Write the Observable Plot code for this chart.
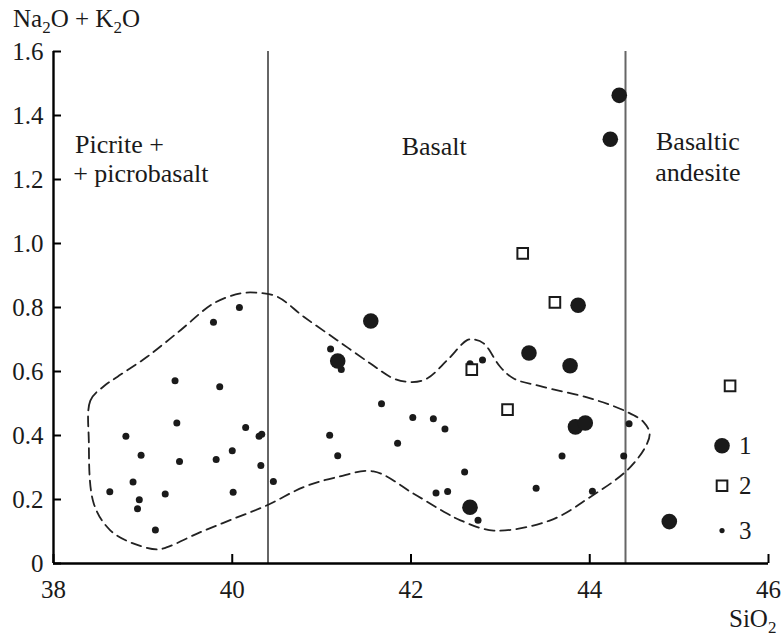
<!DOCTYPE html>
<html>
<head>
<meta charset="utf-8">
<script src="https://cdn.jsdelivr.net/npm/d3@7"></script>
<script src="https://cdn.jsdelivr.net/npm/@observablehq/plot@0.6"></script>
<style>
  html, body { margin: 0; padding: 0; background: #fff; }
  #chart svg { display: block; }
</style>
</head>
<body>
<div id="chart"></div>
<script>
// Series 1: large filled circles
const s1SiO2 = [41.55, 41.18, 44.33, 44.23, 43.87, 43.32, 43.78, 43.84, 43.95, 42.66, 44.89];
const s1Alk  = [0.758, 0.633, 1.463, 1.326, 0.807, 0.658, 0.618, 0.427, 0.439, 0.176, 0.131];
// Series 2: open squares
const s2SiO2 = [43.25, 43.61, 42.68, 43.08, 45.57];
const s2Alk  = [0.969, 0.816, 0.606, 0.481, 0.555];
// Series 3: small dots
const s3SiO2 = [40.08, 39.79, 39.36, 39.86, 39.38, 38.81, 40.15, 40.30, 40.33, 38.98, 39.41, 39.82, 40.00, 40.32, 40.46, 38.89, 38.63, 38.96, 38.94, 39.25, 40.01, 39.14,
                41.10, 41.22, 41.67, 42.02, 42.25, 42.38, 41.09, 41.18, 41.85, 42.60, 42.28, 42.41,
                42.66, 42.80, 44.44, 43.69, 44.38, 43.40, 44.03, 42.75];
const s3Alk  = [0.800, 0.754, 0.571, 0.552, 0.439, 0.398, 0.425, 0.398, 0.404, 0.338, 0.319, 0.325, 0.352, 0.306, 0.256, 0.255, 0.224, 0.199, 0.171, 0.217, 0.223, 0.105,
                0.670, 0.606, 0.499, 0.456, 0.452, 0.420, 0.401, 0.337, 0.376, 0.286, 0.220, 0.225,
                0.624, 0.636, 0.437, 0.336, 0.336, 0.235, 0.226, 0.135];
// Dashed field outline (closed)
const fieldSiO2 = [38.395, 38.414, 38.563, 38.713, 39.048, 39.421, 39.793, 40.092, 40.279, 40.502, 40.800, 41.173, 41.546, 41.807, 42.012, 42.180, 42.404, 42.628, 42.701, 42.813, 43.000, 43.149, 43.447, 44.007, 44.417, 44.603, 44.670, 44.622, 44.417, 44.007, 43.559, 42.925, 42.553, 42.404, 42.030, 41.580, 41.173, 40.800, 40.390, 40.017, 39.644, 39.272, 39.160, 38.898, 38.638, 38.451];
const fieldAlk  = [0.385, 0.510, 0.554, 0.583, 0.646, 0.729, 0.813, 0.844, 0.846, 0.834, 0.771, 0.698, 0.625, 0.578, 0.567, 0.578, 0.635, 0.698, 0.700, 0.688, 0.614, 0.578, 0.554, 0.516, 0.474, 0.442, 0.406, 0.364, 0.291, 0.208, 0.135, 0.103, 0.135, 0.156, 0.218, 0.288, 0.270, 0.239, 0.182, 0.140, 0.098, 0.051, 0.044, 0.062, 0.103, 0.187];
// Classification boundaries (SiO2)
const boundaries = [40.4, 44.4];
// Field names
const leftNames = ["Picrite +", "+ picrobasalt"];
const leftNameX = [38.24, 38.22];
const leftNameY = [1.283, 1.192];
const midNames = ["Basalt", "Basaltic", "andesite"];
const midNameX = [42.26, 45.21, 45.21];
const midNameY = [1.276, 1.292, 1.195];
// Legend
const legendLabels = ["1", "2", "3"];
const legendY = [0.368, 0.243, 0.103];
const legendX = 45.48;
// Ticks
const xTicks = [38, 40, 42, 44, 46];
const yTicks = [0, 0.2, 0.4, 0.6, 0.8, 1.0, 1.2, 1.4, 1.6];

const s1 = s1SiO2.map((x, i) => ({x, y: s1Alk[i]}));
const s2 = s2SiO2.map((x, i) => ({x, y: s2Alk[i]}));
const s3 = s3SiO2.map((x, i) => ({x, y: s3Alk[i]}));
const field = fieldSiO2.map((x, i) => ({x, y: fieldAlk[i]}));
const left = leftNames.map((t, i) => ({t, x: leftNameX[i], y: leftNameY[i]}));
const mid = midNames.map((t, i) => ({t, x: midNameX[i], y: midNameY[i]}));
const legend = legendLabels.map((t, i) => ({t, y: legendY[i]}));

const font = "'Liberation Serif', 'Times New Roman', serif";
const ink = "#1a1a1a";

const plot = Plot.plot({
  width: 782,
  height: 642,
  marginTop: 51,
  marginRight: 14,
  marginBottom: 79,
  marginLeft: 53,
  style: {fontFamily: font, background: "#fff", color: ink},
  x: {domain: [38, 46]},
  y: {domain: [0, 1.6]},
  marks: [
    Plot.ruleX(boundaries, {stroke: "#666", strokeWidth: 2}),
    Plot.line(field, {x: "x", y: "y", curve: "catmull-rom-closed", stroke: "#222", strokeWidth: 1.8, strokeDasharray: "10,6"}),
    Plot.dot(s3, {x: "x", y: "y", r: 3.5, fill: ink}),
    Plot.dot(s1, {x: "x", y: "y", r: 7.8, fill: ink}),
    Plot.dot(s2, {x: "x", y: "y", symbol: "square", r: 6, fill: "#fff", stroke: ink, strokeWidth: 2}),
    // legend
    Plot.dot(legend.slice(0, 1), {x: legendX, y: "y", r: 7.8, fill: ink}),
    Plot.dot(legend.slice(1, 2), {x: legendX, y: "y", symbol: "square", r: 6, fill: "#fff", stroke: ink, strokeWidth: 2}),
    Plot.dot(legend.slice(2, 3), {x: legendX, y: "y", r: 2.6, fill: ink}),
    Plot.text(legend, {x: legendX, y: "y", text: "t", dx: 17, textAnchor: "start", fontSize: 25, fill: ink}),
    // field names
    Plot.text(left, {x: "x", y: "y", text: "t", textAnchor: "start", lineAnchor: "bottom", fontSize: 26, fill: ink}),
    Plot.text(mid, {x: "x", y: "y", text: "t", textAnchor: "middle", lineAnchor: "bottom", fontSize: 26, fill: ink}),
    // axes
    Plot.ruleX([38], {stroke: "#000", strokeWidth: 2.4}),
    Plot.ruleY([0], {stroke: "#000", strokeWidth: 2.4}),
    Plot.axisX({ticks: xTicks, tickSize: -9, text: null, label: null, stroke: "#000", strokeWidth: 2}),
    Plot.axisY({ticks: yTicks, tickSize: -8, text: null, label: null, stroke: "#000", strokeWidth: 2}),
    Plot.axisX({ticks: xTicks, tickSize: 0, tickPadding: 17, fontSize: 25, label: null, fill: ink}),
    Plot.axisY({ticks: yTicks, tickSize: 0, tickPadding: 10, fontSize: 25, label: null, fill: ink,
      tickFormat: d => d === 0 ? "0" : d.toFixed(1)})
  ]
});

document.getElementById("chart").appendChild(plot);

// Axis titles with subscripts
const svg = d3.select(plot);
function subLabel(x, y, parts) {
  const t = svg.append("text")
    .attr("x", x).attr("y", y)
    .attr("text-anchor", "start")
    .attr("font-family", font).attr("font-size", 25).attr("fill", ink);
  parts.forEach(p => {
    if (p.sub) {
      t.append("tspan").attr("dy", 6).attr("font-size", 17).text(p.s);
    } else {
      t.append("tspan").attr("dy", p.after ? -6 : 0).text(p.s);
    }
  });
}
subLabel(13, 27, [{s: "Na"}, {s: "2", sub: true}, {s: "O + K", after: true}, {s: "2", sub: true}, {s: "O", after: true}]);
subLabel(729, 627, [{s: "SiO"}, {s: "2", sub: true}]);
</script>
</body>
</html>
